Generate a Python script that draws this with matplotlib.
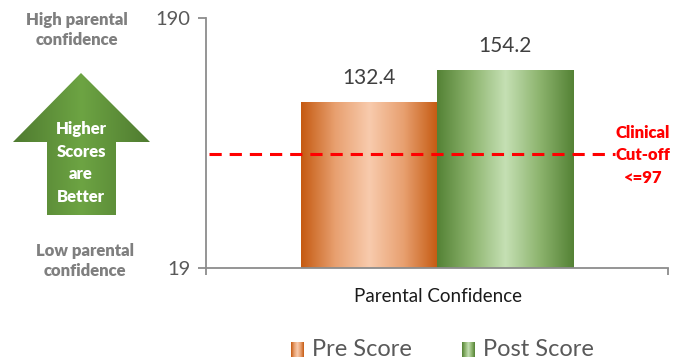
import numpy as np
import matplotlib
matplotlib.use("Agg")
import matplotlib.pyplot as plt
from matplotlib.colors import LinearSegmentedColormap
from matplotlib.patches import Polygon

plt.rcParams['font.family'] = ['Lato', 'DejaVu Sans']

# Data
category = "Parental Confidence"
series = ["Pre Score", "Post Score"]
values = [132.4, 154.2]
cutoff = 97
y_min, y_max = 19, 190
y_ticks = [19, 190]

W, H = 673, 362
fig = plt.figure(figsize=(W / 100, H / 100), dpi=100)

def fx(px):
    return px / W

def fy(py):
    return 1 - py / H

ax = fig.add_axes([fx(206), fy(268), fx(668) - fx(206), fy(18) - fy(268)])
ax.set_xlim(-0.5, 0.5)
ax.set_ylim(y_min, y_max)

grey = "#8C8C8C"
for s in ["top", "right"]:
    ax.spines[s].set_visible(False)
for s in ["left", "bottom"]:
    ax.spines[s].set_color(grey)
    ax.spines[s].set_linewidth(1.3)

ax.set_yticks(y_ticks)
ax.set_yticklabels([str(t) for t in y_ticks])
ax.tick_params(axis="y", direction="out", length=6, color=grey, width=1.3,
               labelsize=14.5, labelcolor="#595959", pad=5)
ax.set_xticks([-0.5, 0.5])
ax.set_xticklabels(["", ""])
ax.tick_params(axis="x", direction="out", length=5, color=grey, width=1.3)

# Gradient fills: dark edges, light centre
cmaps = [
    LinearSegmentedColormap.from_list("pre", ["#C55A11", "#E8A070", "#F8CBAD", "#E8A070", "#C55A11"]),
    LinearSegmentedColormap.from_list("post", ["#548235", "#8DB46E", "#C5E0B4", "#8DB46E", "#548235"]),
]
grad = np.linspace(0, 1, 256).reshape(1, -1)

bar_w = 0.295
offsets = [-bar_w / 2, bar_w / 2]
bars = ax.bar(offsets, np.array(values) - y_min, width=bar_w, bottom=y_min,
              color="none", edgecolor="none", zorder=2)
for rect, cm in zip(bars, cmaps):
    x0, y0 = rect.get_x(), rect.get_y()
    im = ax.imshow(grad, cmap=cm, aspect="auto", zorder=2,
                   extent=[x0, x0 + rect.get_width(), y0, y0 + rect.get_height()])
    im.set_clip_path(rect)
ax.set_xlim(-0.5, 0.5)
ax.set_ylim(y_min, y_max)

for off, v in zip(offsets, values):
    ax.text(off, v + 10, f"{v:.1f}", ha="center", va="bottom",
            fontsize=15, color="#404040")

# Clinical cut-off line
ax.plot([-0.494, 0.385], [cutoff, cutoff], ls=(0, (4, 2.6)), color="#FF0000",
        lw=2.2, zorder=3, clip_on=False)

fig.text(fx(438), fy(297), category, ha="center", va="center",
         fontsize=13.5, color="#1A1A1A")

red = "#FF0000"
fig.text(fx(643), fy(155), "Clinical\nCut-off\n<=97", ha="center", va="center",
         fontsize=12, color=red, fontweight="heavy", linespacing=1.5)

grey_txt = "#7F7F7F"
fig.text(fx(77), fy(30), "High parental\nconfidence", ha="center", va="center",
         fontsize=12, color=grey_txt, fontweight="heavy", linespacing=1.35)
fig.text(fx(85), fy(261), "Low parental\nconfidence", ha="center", va="center",
         fontsize=12, color=grey_txt, fontweight="heavy", linespacing=1.35)

# Overlay in pixel coordinates for the arrow and legend
ov = fig.add_axes([0, 0, 1, 1])
ov.set_xlim(0, W)
ov.set_ylim(H, 0)
ov.axis("off")
ov.patch.set_alpha(0)

arrow_pts = [(13, 142), (81, 73), (150, 142), (116, 142), (116, 215), (47, 215), (47, 142)]
arrow = Polygon(arrow_pts, closed=True, facecolor="none", edgecolor="none")
ov.add_patch(arrow)
arrow_cm = LinearSegmentedColormap.from_list("arr", ["#4F7B30", "#6DA443", "#4F7B30"])
aim = ov.imshow(grad, cmap=arrow_cm, aspect="auto", extent=[13, 150, 215, 73], zorder=2)
aim.set_clip_path(arrow)
ov.text(81, 163, "Higher\nScores\nare\nBetter", ha="center", va="center",
        fontsize=12, color="white", fontweight="heavy", linespacing=1.5, zorder=3)

# Legend
legend_x = [(291, 304), (462, 475)]
text_x = [312, 483]
for (lx0, lx1), tx, cm, name in zip(legend_x, text_x, cmaps, series):
    ov.imshow(grad, cmap=cm, aspect="auto", extent=[lx0, lx1, 357, 342], zorder=2)
    ov.text(tx, 349, name, ha="left", va="center", fontsize=17, color="#595959")

ov.set_xlim(0, W)
ov.set_ylim(H, 0)

fig.savefig("out.png", dpi=100)
